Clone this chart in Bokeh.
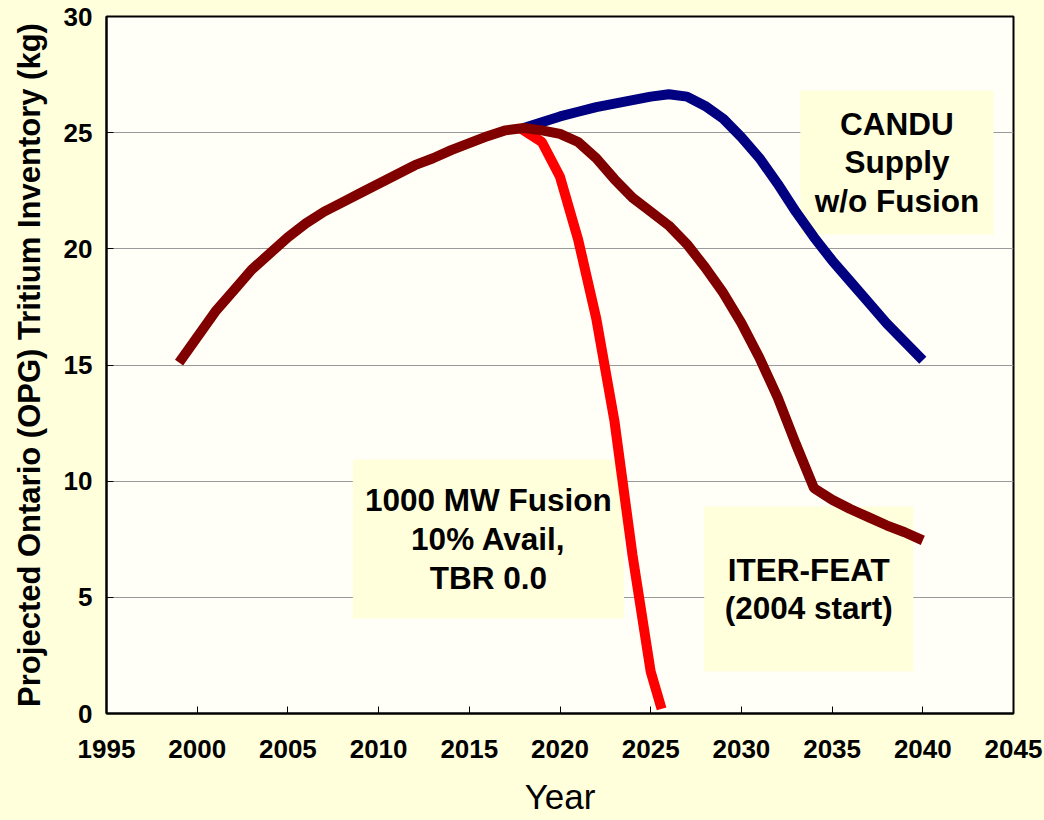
from bokeh.plotting import figure
from bokeh.models import Range1d, BoxAnnotation, Label, FixedTicker
from bokeh.embed import file_html
from bokeh.resources import INLINE

# ---- data ----
iter_years = [1999, 2000, 2001, 2002, 2003, 2004, 2005, 2006, 2007, 2008, 2009,
              2010, 2011, 2012, 2013, 2014, 2015, 2016, 2017, 2018, 2019, 2020,
              2021, 2022, 2023, 2024, 2025, 2026, 2027, 2028, 2029, 2030, 2031,
              2032, 2033, 2034, 2035, 2036, 2037, 2038, 2039, 2040]
iter_vals = [15.1, 16.2, 17.3, 18.2, 19.1, 19.8, 20.5, 21.1, 21.6, 22.0, 22.4,
             22.8, 23.2, 23.6, 23.9, 24.25, 24.55, 24.85, 25.1, 25.2, 25.1, 24.95,
             24.6, 23.9, 23.0, 22.2, 21.6, 21.0, 20.2, 19.2, 18.1, 16.8, 15.3,
             13.6, 11.6, 9.7, 9.2, 8.8, 8.45, 8.1, 7.8, 7.45]

candu_years = [2018, 2019, 2020, 2021, 2022, 2023, 2024, 2025, 2026, 2027, 2028,
               2029, 2030, 2031, 2032, 2033, 2034, 2035, 2036, 2037, 2038, 2039, 2040]
candu_vals = [25.2, 25.45, 25.7, 25.9, 26.1, 26.25, 26.4, 26.55, 26.65, 26.55, 26.15,
              25.6, 24.8, 23.9, 22.8, 21.6, 20.5, 19.5, 18.6, 17.7, 16.8, 16.0, 15.2]

fusion_years = [2017.8, 2019, 2020, 2021, 2022, 2023, 2024, 2025, 2025.6]
fusion_vals = [25.2, 24.6, 23.1, 20.4, 17.0, 12.6, 6.8, 1.8, 0.2]

x_ticks = [1995, 2000, 2005, 2010, 2015, 2020, 2025, 2030, 2035, 2040, 2045]
y_ticks = [0, 5, 10, 15, 20, 25, 30]

box_texts = ["CANDU\nSupply\nw/o Fusion",
             "1000 MW Fusion\n10% Avail,\nTBR 0.0",
             "ITER-FEAT\n(2004 start)"]
# annotation box extents (left, right, bottom, top) in data units
box_extents = [(2033.25, 2043.9, 20.62, 26.82),
               (2008.58, 2023.53, 4.09, 10.93),
               (2027.95, 2039.48, 1.81, 8.91)]

OUTER = "#FFFFDC"
BOXC = "#FFFFDC"
FONT = "Liberation Sans"

p = figure(width=1044, height=820, output_backend="svg", toolbar_location=None,
           x_range=Range1d(1995, 2045), y_range=Range1d(0, 30),
           min_border_left=106, min_border_right=31, min_border_top=16,
           min_border_bottom=107)
p.background_fill_color = "#FFFFF7"
p.border_fill_color = OUTER
p.outline_line_color = "black"
p.outline_line_width = 2

p.xgrid.visible = False
p.ygrid.grid_line_color = "#9A9A9A"
p.ygrid.grid_line_width = 1
p.ygrid.ticker = FixedTicker(ticks=y_ticks)

p.xaxis.ticker = FixedTicker(ticks=x_ticks)
p.yaxis.ticker = FixedTicker(ticks=y_ticks)
for ax in (p.xaxis, p.yaxis):
    ax.axis_line_color = "black"
    ax.axis_line_width = 2
    ax.major_tick_in = 7
    ax.major_tick_out = 0
    ax.major_tick_line_color = "black"
    ax.minor_tick_line_color = None
    ax.major_label_text_font = FONT
    ax.major_label_text_font_style = "bold"
    ax.major_label_text_font_size = "26px"
    ax.major_label_text_color = "black"
p.xaxis.major_label_standoff = 26
p.yaxis.major_label_standoff = 14

p.xaxis.axis_label = "Year"
p.xaxis.axis_label_text_font = FONT
p.xaxis.axis_label_text_font_style = "normal"
p.xaxis.axis_label_text_font_size = "35px"
p.xaxis.axis_label_text_color = "black"
p.xaxis.axis_label_standoff = 16

p.yaxis.axis_label = "Projected Ontario (OPG) Tritium Inventory (kg)"
p.yaxis.axis_label_text_font = FONT
p.yaxis.axis_label_text_font_style = "bold"
p.yaxis.axis_label_text_font_size = "31px"
p.yaxis.axis_label_text_color = "black"
p.yaxis.axis_label_standoff = 14

for (l, r, b, t) in box_extents:
    p.add_layout(BoxAnnotation(left=l, right=r, bottom=b, top=t,
                               fill_color=BOXC, fill_alpha=1.0,
                               line_alpha=0, level="underlay"))

p.line(candu_years, candu_vals, line_color="#000080", line_width=10)
p.line(fusion_years, fusion_vals, line_color="#FF0000", line_width=10)
p.line(iter_years, iter_vals, line_color="#800000", line_width=10)

for txt, (l, r, b, t) in zip(box_texts, box_extents):
    p.add_layout(Label(x=(l + r) / 2, y=(b + t) / 2, text=txt,
                       text_align="center", text_baseline="middle",
                       text_font=FONT, text_font_style="bold",
                       text_font_size="31.5px", text_line_height=1.07,
                       text_color="black"))

html = file_html(p, INLINE)
html = html.replace("</head>", "<style>body{background-color:%s;}</style></head>" % OUTER, 1)
open("out.html", "w").write(html)
